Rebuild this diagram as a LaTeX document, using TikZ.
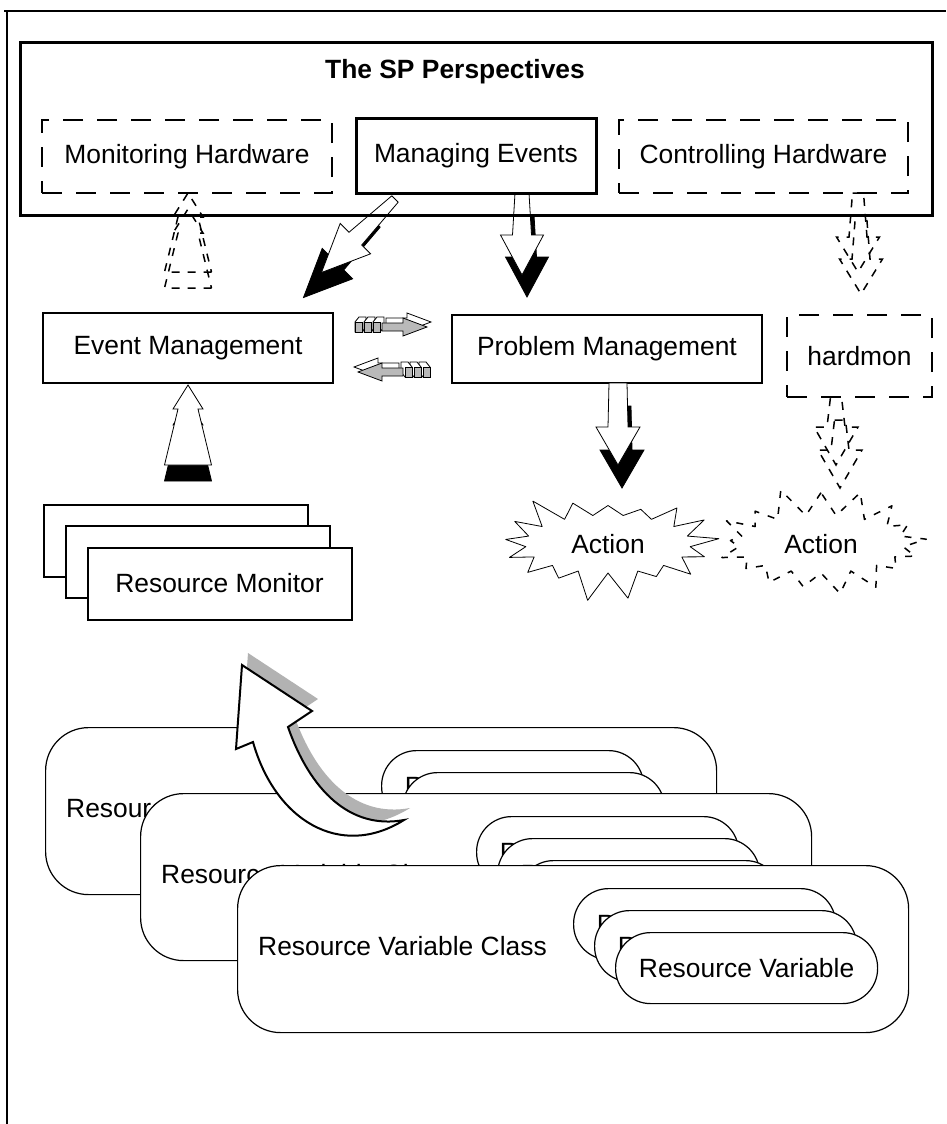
\documentclass[tikz,border=0pt]{standalone}
\usepackage{fontspec}
\setmainfont{Liberation Sans}
\usetikzlibrary{positioning, calc, shapes.symbols}

\tikzset{
  % perspective block arrow: length/head length/tail half/neck half/head half
  pics/fatarrow/.style args={#1/#2/#3/#4/#5}{code={
    \path[pic actions] (-#3,0) -- (#3,0) -- (#4,#1-#2) -- (#5,#1-#2) -- (0,#1)
      -- (-#5,#1-#2) -- (-#4,#1-#2) -- cycle;
  }},
  % small 3D arrow with three bars
  pics/tinyarrow/.style={code={
    \foreach \i in {0,9,18} {
      \filldraw[fill=white, line width=0.8pt] (\i,5) -- (\i,-5) -- (\i+4,-10) -- (\i+11,-10) -- (\i+11,0) -- (\i+7,5) -- cycle;
      \filldraw[fill=gray!55, line width=0.8pt] (\i,-5) rectangle (\i+7,5);
    }
    \filldraw[fill=white, line width=0.8pt, shift={(4,-5)}] (27,-4) -- (48,-4) -- (48,-9) -- (72,0) -- (48,9) -- (48,4) -- (27,4) -- cycle;
    \filldraw[fill=gray!55, line width=0.8pt] (27,-4) -- (48,-4) -- (48,-9) -- (72,0) -- (48,9) -- (48,4) -- (27,4) -- cycle;
  }},
  % curved arrow up to the monitors
  pics/bendarrow/.style={code={
    \path[pic actions] (242,665) -- (312,711) -- (288,727)
      .. controls (310,790) and (350,830) .. (404,820)
      .. controls (340,860) and (275,820) .. (253,742)
      -- (236,749) -- cycle;
  }},
}

\begin{document}
\begin{tikzpicture}[x=1pt, y=-1pt,
  every node/.style={font=\fontsize{26.4}{31}\selectfont, inner sep=0pt},
  box/.style={draw, line width=1.8pt},
  dashbox/.style={draw, line width=2.4pt, dash pattern=on 20pt off 14pt},
  rmbox/.style={draw, fill=white, line width=2pt, minimum width=264pt, minimum height=72pt},
  classbox/.style={draw, fill=white, line width=1.2pt, rounded corners=43pt, minimum width=671pt, minimum height=167pt},
  varpill/.style={draw, fill=white, line width=1.2pt, rounded corners=35pt, minimum width=262pt, minimum height=71pt},
  burst/.style={starburst, draw, line width=0.8pt, line join=round, starburst points=17, starburst point height=30pt, minimum width=225pt, minimum height=118pt},
  frontarrow/.style={draw, fill=white, line width=0.8pt},
  backarrow/.style={draw, fill=black, line width=0.8pt},
  dasharrow/.style={draw, line width=1.5pt, dash pattern=on 8pt off 8pt},
]
\useasboundingbox (0,0) rectangle (946,1124);

% frame
\draw[line width=1.5pt] (4,11) -- (946,11);
\draw[line width=1.5pt] (7,11) -- (7,1124);

% arrows out of the perspectives
\pic[dasharrow, rotate=180] at (188,288) {fatarrow=79/24/23.5/10/15};
\pic[dasharrow, rotate=180] at (188,272) {fatarrow=79/24/23.5/10/15};
\pic[backarrow, rotate=-45] at (377,224) {fatarrow=104/48/4.5/9/21.5};
\pic[frontarrow, rotate=-45] at (395,199) {fatarrow=104/48/4.5/9/21.5};
\pic[backarrow] at (527,215) {fatarrow=82/40/7/9.5/21.5};
\pic[frontarrow] at (522,193) {fatarrow=82/40/7/9.5/21.5};
\pic[dasharrow] at (861,215) {fatarrow=79/35/5.5/9/21.5};
\pic[dasharrow] at (858,193) {fatarrow=79/35/5.5/9/21.5};

% The SP Perspectives
\node[draw, line width=3pt, minimum width=912pt, minimum height=172pt] (sp) at (476,129) {};
\node[font=\fontsize{26.4}{31}\selectfont\bfseries] (title) at (455,72) {The SP Perspectives};
\node[dashbox, minimum width=290pt, minimum height=73pt] (monhw) at (187,156.5) {Monitoring Hardware};
\node[box, line width=3pt, minimum width=240pt, minimum height=75pt] (mgev) at (476,155.5) {Managing Events};
\node[dashbox, minimum width=289pt, minimum height=73pt] (ctlhw) at (763.5,156.5) {Controlling Hardware};

% managers
\node[box, minimum width=290pt, minimum height=70pt] (evmgmt) at (188,348) {Event Management};
\node[box, minimum width=310pt, minimum height=68pt] (pbmgmt) at (607,349) {Problem Management};
\node[dashbox, minimum width=145pt, minimum height=82pt] (hardmon) at (859.5,356) {hardmon};

% exchange between the managers
\pic at (355,327) {tinyarrow};
\pic[xscale=-1] at (430,372) {tinyarrow};

% down to the actions
\pic[backarrow] at (622,406) {fatarrow=82/38/9/10/22};
\pic[frontarrow] at (618,383) {fatarrow=82/38/9/10/22};
\pic[dasharrow] at (840,420) {fatarrow=68/38/5.5/9/22};
\pic[dasharrow] at (836,397) {fatarrow=68/38/5.5/9/22};

\node[burst, random starburst=3] (act1) at (608,544) {Action};
\node[burst, random starburst=11, line width=1.5pt, dash pattern=on 7pt off 9pt] (act2) at (821,544) {Action};

% resource monitors
\node[rmbox] (rm1) at (176,541) {};
\node[rmbox] (rm2) at (197.5,561.5) {};
\node[rmbox] (rm3) at (219.5,583.5) {Resource Monitor};

\pic[backarrow, rotate=180] at (188,481) {fatarrow=80/24/23.5/10/15};
\pic[frontarrow, rotate=180] at (188,465) {fatarrow=80/24/23.5/10/15};

% resource variable classes
\foreach \i/\x/\y in {1/45/727, 2/140/793, 3/237/865} {
  \node[classbox, anchor=north west] (class\i) at (\x,\y) {};
  \node[anchor=west] (cname\i) at ($(class\i.west)+(21,-3)$) {Resource Variable Class};
  \foreach \j in {0,1,2}
    \node[varpill, anchor=north west] (var\i\j) at ($(class\i.north west)+(336+21*\j,23+22*\j)$) {Resource Variable};
}

% bent arrow
\pic[fill=gray!60] at (6,-12) {bendarrow};
\pic[draw, fill=white, line width=2pt] at (0,0) {bendarrow};

\end{tikzpicture}
\end{document}
